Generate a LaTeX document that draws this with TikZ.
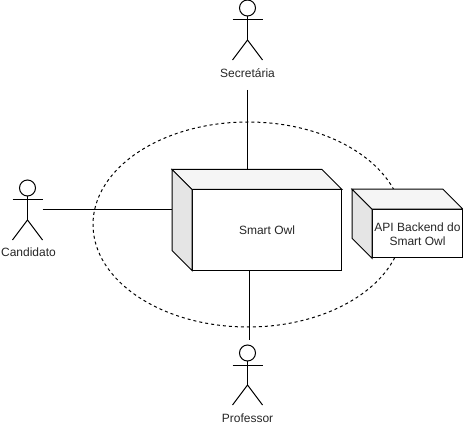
\documentclass[tikz,border=0pt]{standalone}
\usepackage{fontspec}
\setmainfont{Liberation Sans}
\usetikzlibrary{positioning,calc,shapes.geometric}

\tikzset{
  actor/.pic={
    \draw[actorline] (0,8) circle[radius=8];
    \draw[actorline] (0,16) -- (0,40);
    \draw[actorline] (-15,20) -- (15,20);
    \draw[actorline] (-15,60) -- (0,40) -- (15,60);
    \coordinate (-feet) at (0,60);
    \coordinate (-top) at (0,0);
    \coordinate (-side) at (15,30);
  }
}

% top and left faces behind a front node
\newcommand{\cubefaces}[1]{
  \draw[topface] (#1.north west) -- ++(-20,-20) -- ($(#1.north east)+(-20,-20)$) -- (#1.north east) -- cycle;
  \draw[sideface] (#1.north west) -- ++(-20,-20) -- ($(#1.south west)+(-20,-20)$) -- (#1.south west) -- cycle;
  \coordinate (#1-back) at ($(#1.north west)+(-20,-20)$);
}

\begin{document}
\begin{tikzpicture}[
  x=0.75pt,
  y=-0.75pt,
  font=\fontsize{9pt}{10.5pt}\selectfont,
  actorline/.style={line width=0.75pt},
  topface/.style={draw, line width=0.75pt, fill=black!4},
  sideface/.style={draw, line width=0.75pt, fill=black!10},
  front/.style={draw, line width=0.75pt, fill=white, align=center, inner sep=0pt},
  actorlabel/.style={inner sep=0pt, text=black!85},
  link/.style={line width=0.75pt}
]
\useasboundingbox (0,0) rectangle (463,427);

\node[draw, dash pattern=on 2.25pt off 2.25pt, ellipse, line width=0.75pt, minimum width=232.5pt, minimum height=153.75pt, inner sep=0pt] (system) at (248,224.5) {};

\node[front, text=black!85, minimum width=111.75pt, minimum height=60pt] (owl) at (267,230) {Smart Owl};
\cubefaces{owl}

\node[front, text=black!85, minimum width=67.5pt, minimum height=36pt] (api) at (417.5,233.75) {API Backend do\\Smart Owl};
\cubefaces{api}

\pic (sec) at (247.5,0) {actor};
\pic (cand) at (27.5,180) {actor};
\pic (prof) at (247.5,345) {actor};

\node[actorlabel, below=6pt of sec-feet] (seclabel) {Secretária};
\node[actorlabel, below=6pt of cand-feet, xshift=0.75pt] (candlabel) {Candidato};
\node[actorlabel, below=6.25pt of prof-feet] (proflabel) {Professor};

\coordinate (secend) at (247.5,90);
\coordinate (profowl) at (249.5,271);
\coordinate (profend) at (249.5,340);

\draw[link] (secend) -- (secend |- owl-back);
\draw[link] (cand-side) -- (cand-side -| owl-back);
\draw[link] (profowl) -- (profend);

\end{tikzpicture}
\end{document}
